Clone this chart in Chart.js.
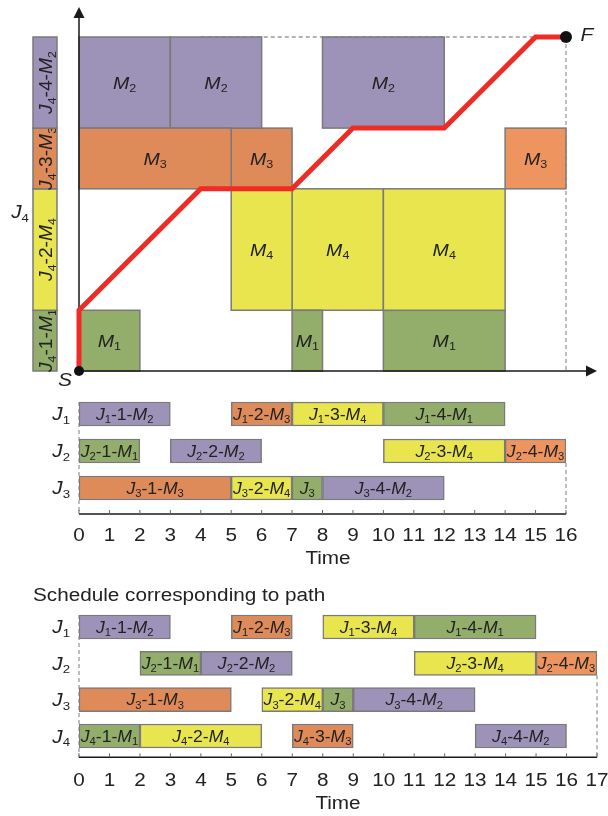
<!DOCTYPE html>
<html>
<head>
<meta charset="utf-8">
<script src="https://cdn.jsdelivr.net/npm/chart.js@4.4.1/dist/chart.umd.min.js"></script>
<style>
    html, body { margin: 0; padding: 0; background: #fff; }
    body { width: 608px; height: 816px; position: relative; overflow: hidden; }
    canvas { position: absolute; left: 0; }
</style>
</head>
<body>
<canvas id="pathChart" width="608" height="400" style="top:0px"></canvas>
<canvas id="scheduleA" width="608" height="180" style="top:390px"></canvas>
<canvas id="scheduleB" width="608" height="246" style="top:570px"></canvas>
<script>
// J4 operations on the vertical axis (order, machine, duration)
const j4Steps = ['J4-1-M1', 'J4-2-M4', 'J4-3-M3', 'J4-4-M2'];
const j4Machine = ['M1', 'M4', 'M3', 'M2'];
const j4Duration = [2, 4, 2, 3];

// path through the obstacle grid, S -> F
const pathX = [0, 0, 4, 7, 9, 12, 15, 16];
const pathY = [0, 2, 6, 6, 8, 8, 11, 11];

// schedule of J1..J3 (also gives the obstacles of the top plot)
const jobsA = ['J1', 'J2', 'J3'];
const opJobA = ['J1', 'J1', 'J1', 'J1', 'J2', 'J2', 'J2', 'J2', 'J3', 'J3', 'J3', 'J3'];
const opMachineA = ['M2', 'M3', 'M4', 'M1', 'M1', 'M2', 'M4', 'M3', 'M3', 'M4', 'M1', 'M2'];
const opTextA = ['J1-1-M2', 'J1-2-M3', 'J1-3-M4', 'J1-4-M1', 'J2-1-M1', 'J2-2-M2', 'J2-3-M4', 'J2-4-M3', 'J3-1-M3', 'J3-2-M4', 'J3', 'J3-4-M2'];
const opStartA = [0, 5, 7, 10, 0, 3, 10, 14, 0, 5, 7, 8];
const opEndA = [3, 7, 10, 14, 2, 6, 14, 16, 5, 7, 8, 12];
const ticksA = [0, 1, 2, 3, 4, 5, 6, 7, 8, 9, 10, 11, 12, 13, 14, 15, 16];

// schedule corresponding to the path, J1..J4
const jobsB = ['J1', 'J2', 'J3', 'J4'];
const opJobB = ['J1', 'J1', 'J1', 'J1', 'J2', 'J2', 'J2', 'J2', 'J3', 'J3', 'J3', 'J3', 'J4', 'J4', 'J4', 'J4'];
const opMachineB = ['M2', 'M3', 'M4', 'M1', 'M1', 'M2', 'M4', 'M3', 'M3', 'M4', 'M1', 'M2', 'M1', 'M4', 'M3', 'M2'];
const opTextB = ['J1-1-M2', 'J1-2-M3', 'J1-3-M4', 'J1-4-M1', 'J2-1-M1', 'J2-2-M2', 'J2-3-M4', 'J2-4-M3', 'J3-1-M3', 'J3-2-M4', 'J3', 'J3-4-M2', 'J4-1-M1', 'J4-2-M4', 'J4-3-M3', 'J4-4-M2'];
const opStartB = [0, 5, 8, 11, 2, 4, 11, 15, 0, 6, 8, 9, 0, 2, 7, 13];
const opEndB = [3, 7, 11, 15, 4, 7, 15, 17, 5, 8, 9, 13, 2, 6, 9, 16];
const ticksB = [0, 1, 2, 3, 4, 5, 6, 7, 8, 9, 10, 11, 12, 13, 14, 15, 16, 17];

const machines = ['M1', 'M2', 'M3', 'M4'];
const machineColors = { M1: '#93ad6b', M2: '#9d92b7', M3: '#df8a59', M4: '#e8e54e' };
const lightM3 = '#ee955f';
const edgeColor = '#7a7a7a';
const textColor = '#222222';
const FONT = '"Liberation Sans", Arial, sans-serif';
const STRETCH = 1.15;

function colorFor(job, machine) {
    // the last operation of J2 is drawn a bit lighter in the figure
    if (job === 'J2' && machine === 'M3') return lightM3;
    return machineColors[machine];
}

// "J1-2-M3" -> italic letters with subscript indices
function richParts(str, plain) {
    if (plain) return [{ t: str }];
    const parts = [];
    for (let i = 0; i < str.length; i++) {
        const c = str[i];
        const prev = str[i - 1];
        if ('JMSF'.includes(c)) parts.push({ t: c, italic: true });
        else if (/\d/.test(c) && (prev === 'J' || prev === 'M')) parts.push({ t: c, sub: true });
        else parts.push({ t: c });
    }
    return parts;
}

function partFont(p, size) {
    const s = p.sub ? size * 0.64 : size;
    return (p.italic ? 'italic ' : '') + s.toFixed(1) + 'px ' + FONT;
}

function drawRich(ctx, str, x, y, size, align, opts = {}) {
    const parts = richParts(str, opts.plain);
    ctx.save();
    ctx.translate(x, y);
    if (opts.rotate) ctx.rotate(opts.rotate);
    ctx.scale(opts.stretch || STRETCH, 1);
    let w = 0;
    parts.forEach(p => { ctx.font = partFont(p, size); w += ctx.measureText(p.t).width; });
    let cx = align === 'center' ? -w / 2 : (align === 'right' ? -w : 0);
    ctx.fillStyle = opts.color || textColor;
    ctx.textAlign = 'left';
    ctx.textBaseline = 'alphabetic';
    const base = size * 0.36;
    parts.forEach(p => {
        ctx.font = partFont(p, size);
        ctx.fillText(p.t, cx, p.sub ? base + size * 0.2 : base);
        cx += ctx.measureText(p.t).width;
    });
    ctx.restore();
}

function dashedLine(ctx, x1, y1, x2, y2) {
    ctx.save();
    ctx.strokeStyle = '#9a9a9a';
    ctx.lineWidth = 1.3;
    ctx.setLineDash([4, 3]);
    ctx.beginPath();
    ctx.moveTo(x1, y1);
    ctx.lineTo(x2, y2);
    ctx.stroke();
    ctx.restore();
}

function arrowHead(ctx, tipX, tipY, dir) {
    ctx.beginPath();
    if (dir === 'up') {
        ctx.moveTo(tipX, tipY);
        ctx.lineTo(tipX - 5.5, tipY + 11);
        ctx.lineTo(tipX + 5.5, tipY + 11);
    } else {
        ctx.moveTo(tipX, tipY);
        ctx.lineTo(tipX - 11, tipY - 5.5);
        ctx.lineTo(tipX - 11, tipY + 5.5);
    }
    ctx.closePath();
    ctx.fill();
}

// cumulative y range of each J4 step
const j4From = j4Duration.map((d, i) => j4Duration.slice(0, i).reduce((a, b) => a + b, 0));

const pathBackground = {
    id: 'pathBackground',
    beforeDatasetsDraw(chart) {
        const { ctx, scales: { x, y } } = chart;
        const yTop = j4From[j4From.length - 1] + j4Duration[j4Duration.length - 1];
        const xEnd = pathX[pathX.length - 1];

        dashedLine(ctx, x.getPixelForValue(4), y.getPixelForValue(yTop), x.getPixelForValue(xEnd), y.getPixelForValue(yTop));
        dashedLine(ctx, x.getPixelForValue(xEnd), y.getPixelForValue(yTop), x.getPixelForValue(xEnd), y.getPixelForValue(0));

        // obstacles: other jobs' operations on the machine of each J4 step
        opMachineA.forEach((m, i) => {
            const k = j4Machine.indexOf(m);
            const x0 = x.getPixelForValue(opStartA[i]);
            const x1 = x.getPixelForValue(opEndA[i]);
            const y0 = y.getPixelForValue(j4From[k]);
            const y1 = y.getPixelForValue(j4From[k] + j4Duration[k]);
            ctx.fillStyle = colorFor(opJobA[i], m);
            ctx.fillRect(x0, y1, x1 - x0, y0 - y1);
            ctx.strokeStyle = edgeColor;
            ctx.lineWidth = 1.5;
            ctx.strokeRect(x0, y1, x1 - x0, y0 - y1);
            drawRich(ctx, m, (x0 + x1) / 2, (y0 + y1) / 2, 17, 'center');
        });

        // J4 operation strip on the left
        j4Steps.forEach((s, k) => {
            const y0 = y.getPixelForValue(j4From[k]);
            const y1 = y.getPixelForValue(j4From[k] + j4Duration[k]);
            ctx.fillStyle = machineColors[j4Machine[k]];
            ctx.fillRect(33, y1, 24, y0 - y1);
            ctx.strokeStyle = edgeColor;
            ctx.lineWidth = 1.5;
            ctx.strokeRect(33, y1, 24, y0 - y1);
            drawRich(ctx, s, 46, (y0 + y1) / 2, 17.5, 'center', { rotate: -Math.PI / 2, stretch: 1.1 });
        });
        drawRich(ctx, 'J4', 20, 212, 18, 'center');

        // axes with arrows
        const ox = x.getPixelForValue(0);
        const oy = y.getPixelForValue(0);
        ctx.strokeStyle = '#1a1a1a';
        ctx.fillStyle = '#1a1a1a';
        ctx.lineWidth = 1.5;
        ctx.beginPath();
        ctx.moveTo(ox, oy);
        ctx.lineTo(ox, 16);
        ctx.moveTo(ox, oy);
        ctx.lineTo(587, oy);
        ctx.stroke();
        arrowHead(ctx, ox, 7, 'up');
        arrowHead(ctx, 597, oy, 'right');
    },
    afterDatasetsDraw(chart) {
        const { ctx, scales: { x, y } } = chart;
        const n = pathX.length - 1;
        drawRich(ctx, 'S', x.getPixelForValue(pathX[0]) - 14, y.getPixelForValue(pathY[0]) + 8, 19, 'center', { stretch: 1.1 });
        drawRich(ctx, 'F', x.getPixelForValue(pathX[n]) + 21, y.getPixelForValue(pathY[n]) - 3, 19, 'center', { stretch: 1.1 });
    }
};

new Chart(document.getElementById('pathChart'), {
    type: 'scatter',
    data: {
        datasets: [
            {
                data: pathX.map((v, i) => ({ x: v, y: pathY[i] })),
                showLine: true,
                borderColor: '#ee2b25',
                borderWidth: 5,
                borderJoinStyle: 'miter',
                pointRadius: 0,
                tension: 0,
                clip: false,
                order: 1
            },
            {
                data: [
                    { x: pathX[0], y: pathY[0] },
                    { x: pathX[pathX.length - 1], y: pathY[pathY.length - 1] }
                ],
                pointRadius: [5, 6],
                backgroundColor: '#111111',
                borderWidth: 0,
                clip: false,
                order: 0
            }
        ]
    },
    options: {
        responsive: false,
        animation: false,
        devicePixelRatio: 1,
        layout: { padding: { left: 79, right: 42, top: 37, bottom: 29 } },
        scales: {
            x: { type: 'linear', min: 0, max: 16, display: false },
            y: { type: 'linear', min: 0, max: 11, display: false }
        },
        plugins: { legend: { display: false }, tooltip: { enabled: false } }
    },
    plugins: [pathBackground]
});

function buildSchedule(canvasId, cfg) {
    const { jobs, opJob, opMachine, opText, opStart, opEnd, ticks } = cfg;
    const xMax = ticks[ticks.length - 1];

    const datasets = machines.map(m => ({
        label: m,
        data: jobs.map(j => {
            const i = opJob.findIndex((jj, k) => jj === j && opMachine[k] === m);
            return i >= 0 ? [opStart[i], opEnd[i]] : null;
        }),
        backgroundColor: jobs.map(j => colorFor(j, m)),
        borderColor: edgeColor,
        borderWidth: 1.5,
        borderSkipped: false,
        barThickness: 24,
        grouped: false
    }));

    const decor = {
        id: 'scheduleDecor',
        beforeDatasetsDraw(chart) {
            const { ctx, scales: { x, y } } = chart;
            const x0 = x.getPixelForValue(0);
            dashedLine(ctx, x0, y.getPixelForValue(0) - 12, x0, cfg.axisY);
            const xe = x.getPixelForValue(xMax);
            dashedLine(ctx, xe, y.getPixelForValue(cfg.endRow) + 12, xe, cfg.axisY);
        },
        afterDatasetsDraw(chart) {
            const { ctx, scales: { x, y } } = chart;
            opText.forEach((t, i) => {
                const cx = x.getPixelForValue((opStart[i] + opEnd[i]) / 2);
                const cy = y.getPixelForValue(jobs.indexOf(opJob[i]));
                drawRich(ctx, t, cx, cy, 16, 'center', { stretch: 1.1 });
            });
            jobs.forEach((j, r) => drawRich(ctx, j, 70, y.getPixelForValue(r), 18, 'right'));

            ctx.strokeStyle = '#1a1a1a';
            ctx.lineWidth = 1.5;
            ctx.beginPath();
            ctx.moveTo(x.getPixelForValue(0), cfg.axisY);
            ctx.lineTo(x.getPixelForValue(xMax), cfg.axisY);
            ctx.stroke();
            ctx.strokeStyle = '#666666';
            ctx.lineWidth = 1;
            ticks.forEach(v => {
                const px = x.getPixelForValue(v);
                ctx.beginPath();
                ctx.moveTo(px, cfg.axisY);
                ctx.lineTo(px, cfg.axisY - 4);
                ctx.stroke();
                drawRich(ctx, String(v), px, cfg.labelY, 18, 'center');
            });
            drawRich(ctx, 'Time', cfg.timeX, cfg.timeY, 18, 'center', { plain: true });
            if (cfg.title) drawRich(ctx, cfg.title, 33, cfg.titleY, 18, 'left', { plain: true });
        }
    };

    return new Chart(document.getElementById(canvasId), {
        type: 'bar',
        data: { labels: jobs, datasets },
        options: {
            indexAxis: 'y',
            responsive: false,
            animation: false,
            devicePixelRatio: 1,
            layout: { padding: cfg.padding },
            scales: {
                x: { type: 'linear', min: 0, max: xMax, display: false },
                y: { display: false }
            },
            plugins: { legend: { display: false }, tooltip: { enabled: false } }
        },
        plugins: [decor]
    });
}

buildSchedule('scheduleA', {
    jobs: jobsA, opJob: opJobA, opMachine: opMachineA, opText: opTextA,
    opStart: opStartA, opEnd: opEndA, ticks: ticksA,
    padding: { left: 79, right: 42, top: 5.5, bottom: 63.5 },
    axisY: 124, labelY: 145, timeX: 328, timeY: 168, endRow: 1
});

buildSchedule('scheduleB', {
    jobs: jobsB, opJob: opJobB, opMachine: opMachineB, opText: opTextB,
    opStart: opStartB, opEnd: opEndB, ticks: ticksB,
    padding: { left: 79, right: 11, top: 38.8, bottom: 61.8 },
    axisY: 187.3, labelY: 210, timeX: 338, timeY: 233, endRow: 1,
    title: 'Schedule corresponding to path', titleY: 24.7
});
</script>
</body>
</html>
